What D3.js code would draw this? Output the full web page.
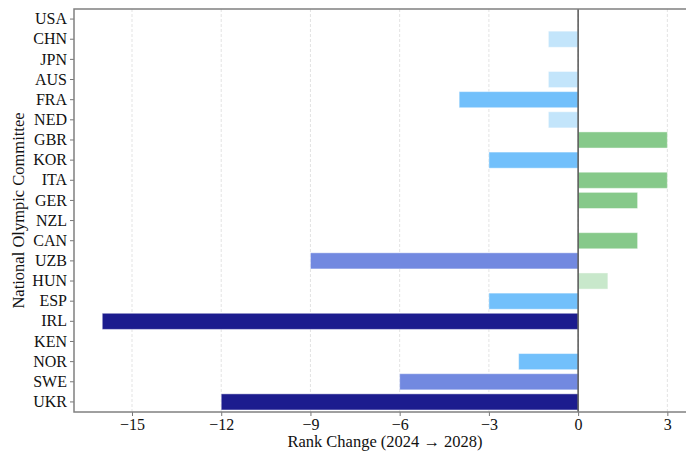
<!DOCTYPE html>
<html>
<head>
<meta charset="utf-8">
<script src="https://cdn.jsdelivr.net/npm/d3@7"></script>
<style>
  html, body { margin: 0; padding: 0; background: #fff; }
  svg text { font-family: "Liberation Serif", "Times New Roman", serif; fill: #111; }
</style>
</head>
<body>
<svg id="chart" width="686" height="452"></svg>
<script>
// National Olympic Committees, top to bottom
const nocs = ["USA", "CHN", "JPN", "AUS", "FRA", "NED", "GBR", "KOR", "ITA", "GER",
              "NZL", "CAN", "UZB", "HUN", "ESP", "IRL", "KEN", "NOR", "SWE", "UKR"];
// Change in medal-table rank from 2024 to 2028
const rankChange = [0, -1, 0, -1, -4, -1, 3, -3, 3, 2,
                    0, 2, -9, 1, -3, -16, 0, -2, -6, -12];
const xTicks = [-15, -12, -9, -6, -3, 0, 3];

// Colour bands by size of the change
function barColor(v) {
  if (v <= -10) return "#1c1c8e";
  if (v <= -5) return "#7289e0";
  if (v <= -2) return "#72c0fb";
  if (v < 0) return "#c3e5fb";
  if (v >= 2) return "#86c98a";
  return "#c8e8cb";
}

const svg = d3.select("#chart");
const plotLeft = 74, plotTop = 9, plotBottom = 412, plotRight = 695.6;
const xMin = d3.min(rankChange), xMax = d3.max(rankChange);
const pad = (xMax - xMin) * 0.05;
const x = d3.scaleLinear().domain([xMin - pad, xMax + pad]).range([plotLeft, plotRight]);
const y = d3.scaleBand().domain(nocs).range([plotTop, plotBottom]).paddingInner(0.2).paddingOuter(0.1);

// Vertical dashed grid
svg.append("g").selectAll("line").data(xTicks).join("line")
  .attr("x1", d => x(d)).attr("x2", d => x(d))
  .attr("y1", plotTop).attr("y2", plotBottom)
  .attr("stroke", "#dcdcdc").attr("stroke-width", 0.8)
  .attr("stroke-dasharray", "3,2");

// Bars
svg.append("g").selectAll("rect").data(nocs.map((n, i) => ({ n, v: rankChange[i] })).filter(d => d.v !== 0))
  .join("rect")
  .attr("x", d => x(Math.min(0, d.v)))
  .attr("y", d => y(d.n))
  .attr("width", d => Math.abs(x(d.v) - x(0)))
  .attr("height", y.bandwidth())
  .attr("fill", d => barColor(d.v))
  .attr("stroke", "#ffffff").attr("stroke-opacity", 0.45).attr("stroke-width", 1);

// Zero reference line
svg.append("line")
  .attr("x1", x(0)).attr("x2", x(0)).attr("y1", plotTop).attr("y2", plotBottom)
  .attr("stroke", "#555").attr("stroke-width", 1.5);

// Axes
const xAxis = d3.axisBottom(x).tickValues(xTicks).tickSize(4).tickPadding(3)
  .tickFormat(d => d < 0 ? "\u2212" + Math.abs(d) : d);
const gx = svg.append("g").attr("transform", `translate(0,${plotBottom})`).call(xAxis);
gx.select(".domain").remove();
gx.selectAll(".tick line").attr("stroke", "#777");
gx.selectAll(".tick text").attr("font-size", 16);

const yAxis = d3.axisLeft(y).tickSize(4).tickPadding(3);
const gy = svg.append("g").attr("transform", `translate(${plotLeft},0)`).call(yAxis);
gy.select(".domain").remove();
gy.selectAll(".tick line").attr("stroke", "#777");
gy.selectAll(".tick text").attr("font-size", 16);
gx.attr("font-family", null);
gy.attr("font-family", null);

// Spines
svg.append("rect")
  .attr("x", plotLeft).attr("y", plotTop).attr("width", plotRight - plotLeft).attr("height", plotBottom - plotTop)
  .attr("fill", "none").attr("stroke", "#808080").attr("stroke-width", 1.5);

// Axis titles
svg.append("text").attr("x", 385).attr("y", 447)
  .attr("text-anchor", "middle").attr("font-size", 16.5)
  .text("Rank Change (2024 \u2192 2028)");
svg.append("text")
  .attr("transform", `translate(24,${(plotTop + plotBottom) / 2}) rotate(-90)`)
  .attr("text-anchor", "middle").attr("font-size", 16.5)
  .text("National Olympic Committee");
</script>
</body>
</html>
